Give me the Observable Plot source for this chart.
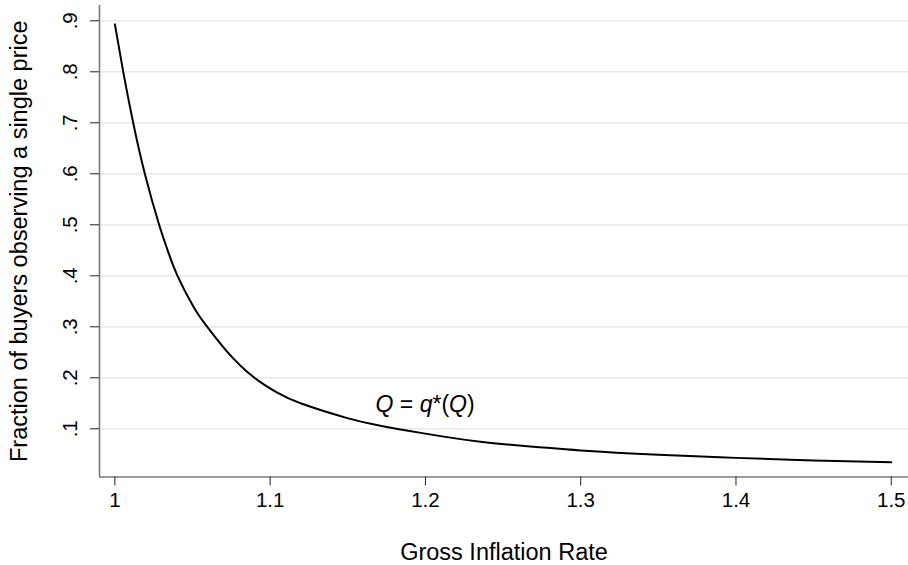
<!DOCTYPE html>
<html>
<head>
<meta charset="utf-8">
<script src="https://cdn.jsdelivr.net/npm/d3@7"></script>
<script src="https://cdn.jsdelivr.net/npm/@observablehq/plot@0.6"></script>
<style>
  html, body { margin: 0; padding: 0; background: #fff; }
  #chart { width: 908px; height: 565px; }
</style>
</head>
<body>
<div id="chart"></div>
<script>
// Data
const inflation = [1.000, 1.0054, 1.0118, 1.0193, 1.0285, 1.0341, 1.0402, 1.0509, 1.0595, 1.0724, 1.0895, 1.1046, 1.1196, 1.1497, 1.171, 1.197, 1.2354, 1.2696, 1.300, 1.350, 1.400, 1.450, 1.500];
const fraction  = [0.893, 0.800, 0.700, 0.600, 0.500, 0.449, 0.401, 0.338, 0.300, 0.251, 0.201, 0.171, 0.150, 0.121, 0.106, 0.092, 0.0745, 0.065, 0.0575, 0.049, 0.043, 0.038, 0.0345];
const xTicks = [1, 1.1, 1.2, 1.3, 1.4, 1.5];
const xTickLabels = ["1", "1.1", "1.2", "1.3", "1.4", "1.5"];
const yTicks = [0.1, 0.2, 0.3, 0.4, 0.5, 0.6, 0.7, 0.8, 0.9];
const yTickLabels = [".1", ".2", ".3", ".4", ".5", ".6", ".7", ".8", ".9"];
const xTitle = "Gross Inflation Rate";
const yTitle = "Fraction of buyers observing a single price";
const annotation = [{x: 1.1679, y: 0.1326, text: "Q = q*(Q)"}];

const xDomain = [0.9901, 1.5111];
const yDomain = [0.0055, 0.93];

const curve = inflation.map((x, i) => ({x, y: fraction[i]}));

const chart = Plot.plot({
  width: 908,
  height: 565,
  marginLeft: 99,
  marginRight: 0,
  marginTop: 5,
  marginBottom: 88.5,
  style: {fontFamily: "'Liberation Sans', Arial, Helvetica, sans-serif", color: "#000", background: "#fff"},
  x: {domain: xDomain},
  y: {domain: yDomain},
  marks: [
    Plot.gridY(yTicks, {stroke: "#e3e3e3", strokeOpacity: 1, strokeWidth: 1.2}),
    Plot.ruleX([xDomain[0]], {stroke: "#7a7a7a", strokeWidth: 1.6}),
    Plot.ruleY([yDomain[0]], {stroke: "#7a7a7a", strokeWidth: 1.6}),
    Plot.axisX(xTicks, {
      tickSize: 9, tickPadding: 6, fontSize: 20.5, stroke: "#222",
      tickFormat: d => xTickLabels[xTicks.indexOf(d)], label: null
    }),
    Plot.axisY(yTicks, {
      tickSize: 9, tickRotate: -90, tickPadding: 13.5, fontSize: 20.5, stroke: "#222",
      tickFormat: d => yTickLabels[yTicks.indexOf(d)], label: null
    }),
    Plot.line(curve, {x: "x", y: "y", stroke: "#000", strokeWidth: 2, curve: "natural"}),
    Plot.text(annotation, {x: "x", y: "y", text: "text", textAnchor: "start", lineAnchor: "bottom",
      fontSize: 23, fill: "#000", className: "eqlabel"}),
    Plot.text([xTitle], {frameAnchor: "bottom", textAnchor: "middle", lineAnchor: "middle", dy: 75.5, fontSize: 23.5, fill: "#000"}),
    Plot.text([yTitle], {frameAnchor: "left", textAnchor: "middle", lineAnchor: "middle", rotate: -90, dx: -80, fontSize: 23.5, fill: "#000"})
  ]
});

document.getElementById("chart").appendChild(chart);

// Mixed styling for the equation label: italic Q and q
const t = chart.querySelector(".eqlabel text");
if (t) {
  const parts = [["Q", true], [" = ", false], ["q", true], ["*", false], ["(", false], ["Q", true], [")", false]];
  t.textContent = "";
  for (const [s, it] of parts) {
    const sp = document.createElementNS("http://www.w3.org/2000/svg", "tspan");
    sp.textContent = s;
    if (it) sp.setAttribute("font-style", "italic");
    t.appendChild(sp);
  }
}
</script>
</body>
</html>
